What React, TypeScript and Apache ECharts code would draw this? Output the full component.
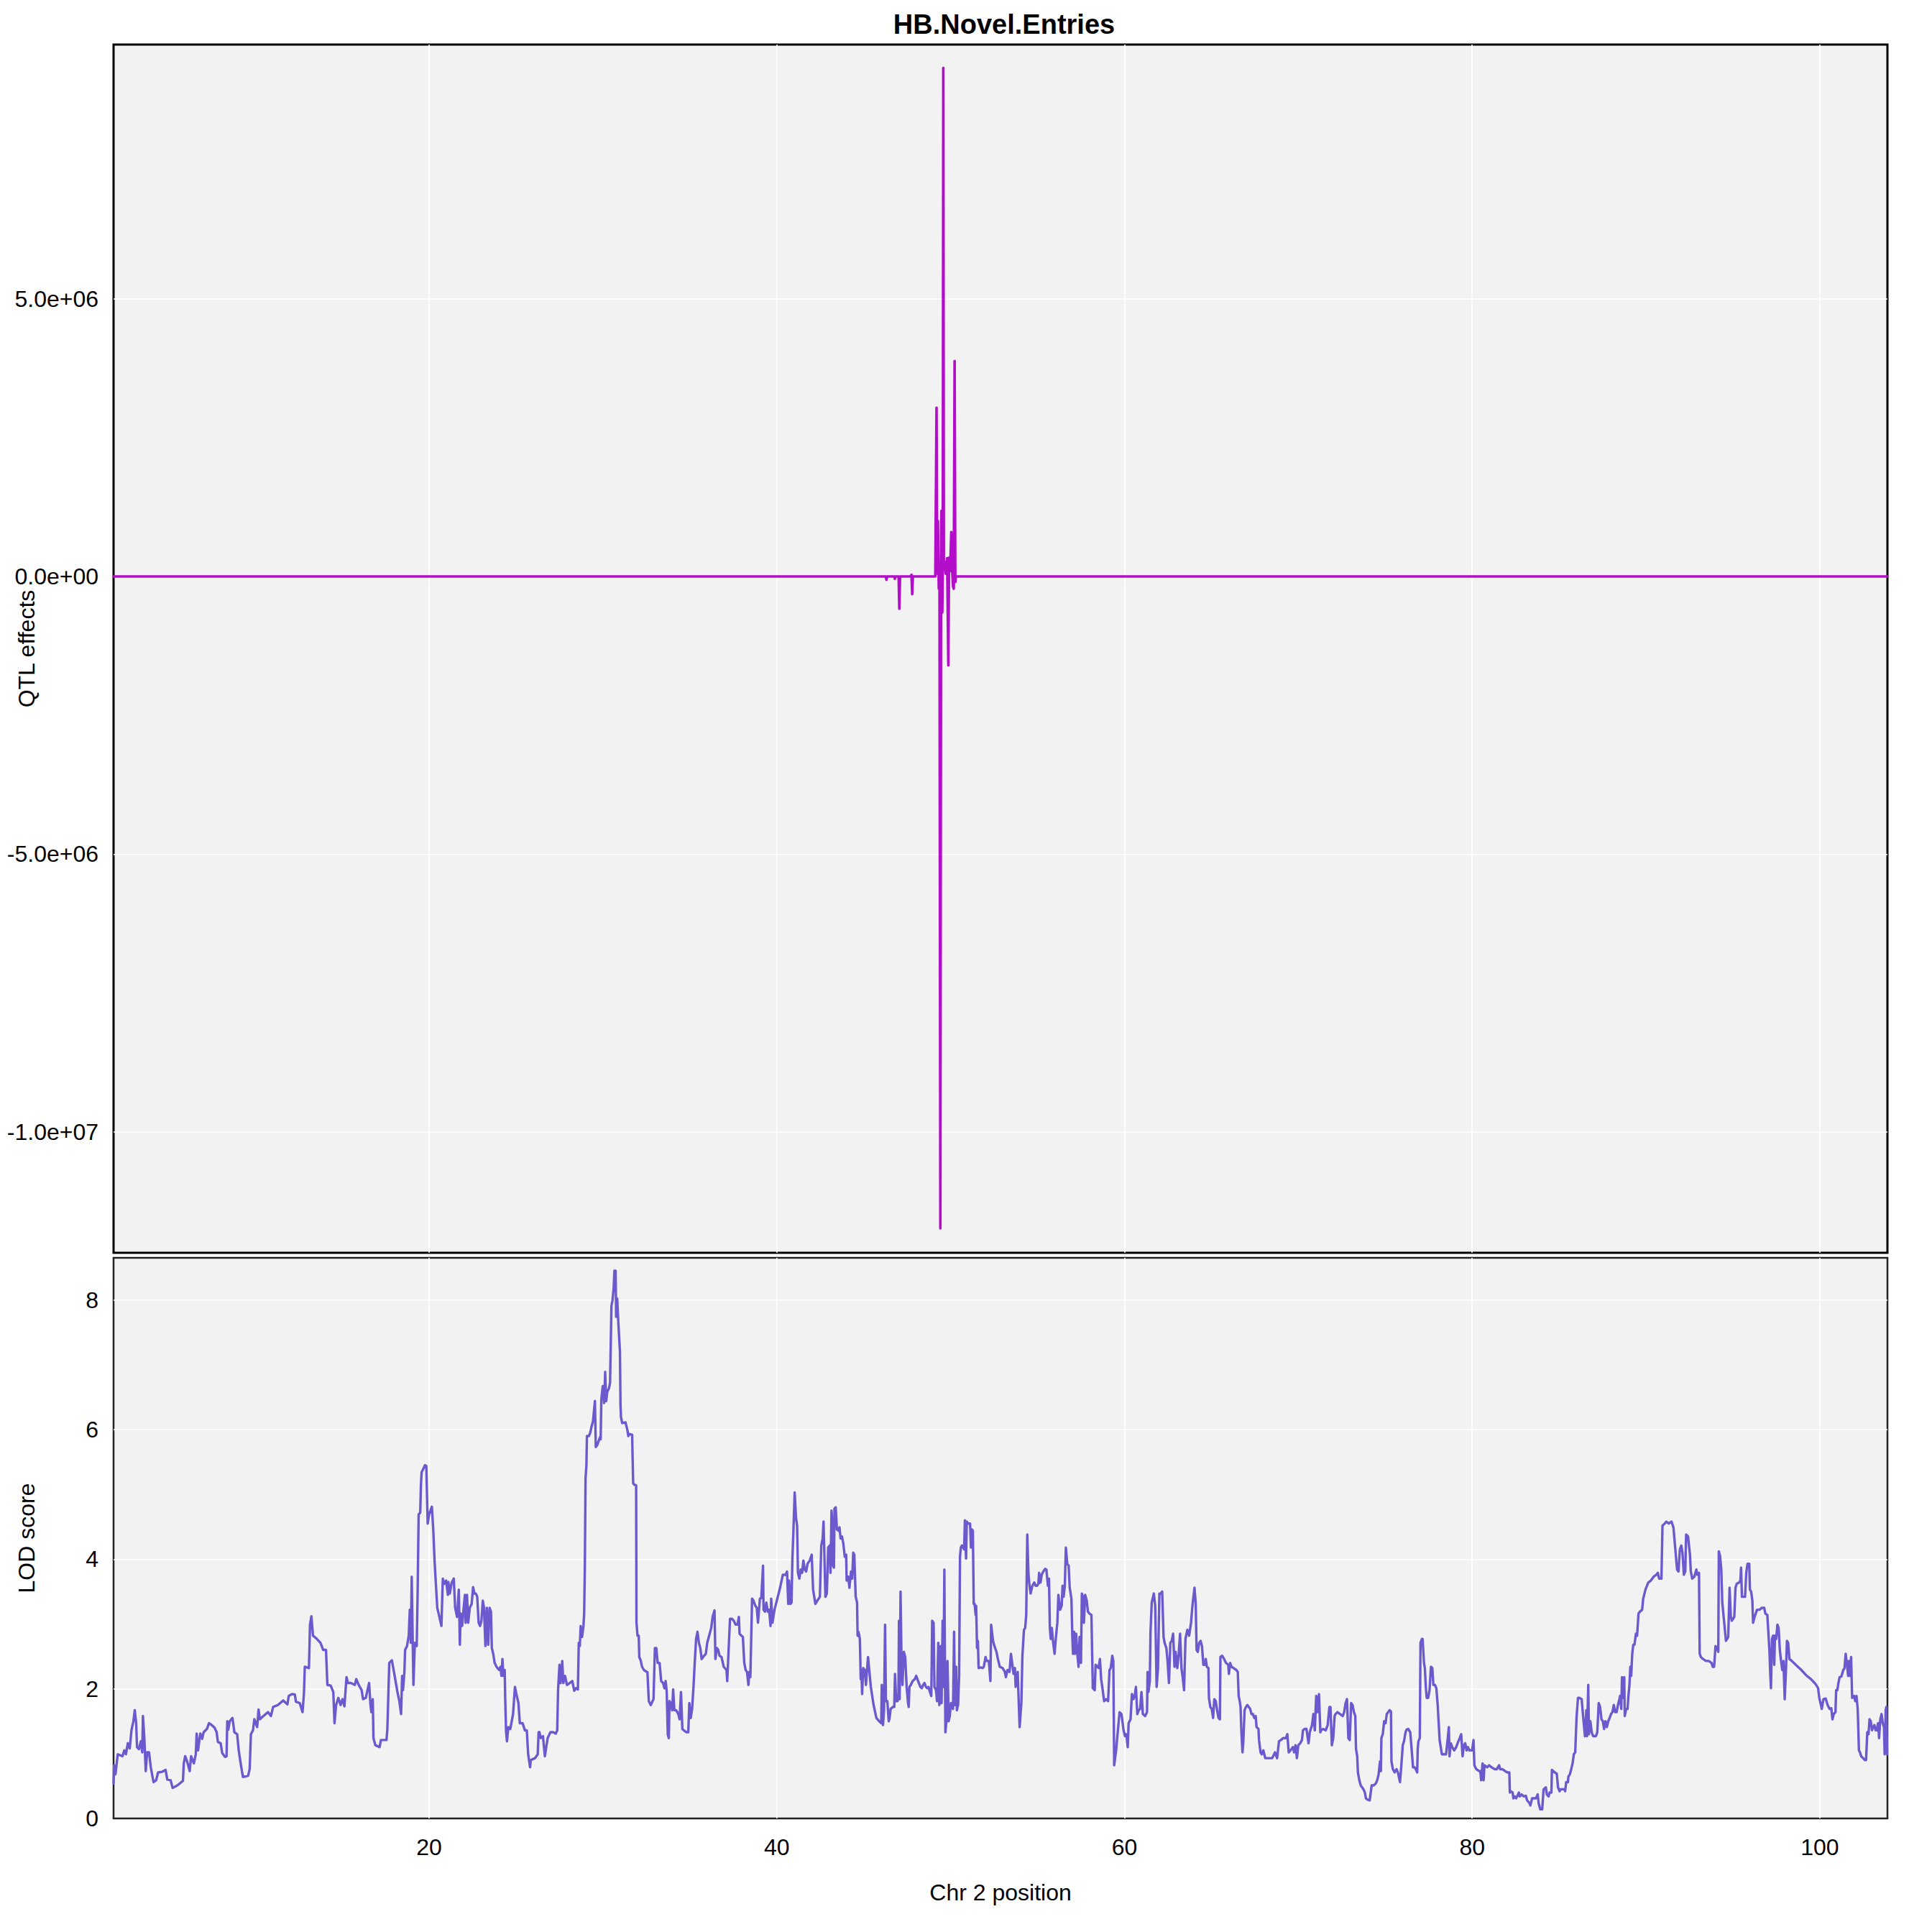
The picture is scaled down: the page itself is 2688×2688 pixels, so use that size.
import React, { useEffect, useRef } from "react";
import * as echarts from "echarts";

const chartTitle = "HB.Novel.Entries";
const xAxisTitle = "Chr 2 position";
const qtlAxisTitle = "QTL effects";
const lodAxisTitle = "LOD score";

const posTickValues = [20, 40, 60, 80, 100];
const posTickLabels = ["20", "40", "60", "80", "100"];
const qtlTickValues = [-1e7, -5e6, 0, 5e6];
const qtlTickLabels = ["-1.0e+07", "-5.0e+06", "0.0e+00", "5.0e+06"];
const lodTickValues = [0, 2, 4, 6, 8];
const lodTickLabels = ["0", "2", "4", "6", "8"];

// QTL effects (top panel): [position, effect]
const effectPoints = [
  [1.85, 0], [46.27, 0], [46.31, -60000], [46.35, 0], [46.75, 0], [46.79, -40000], [46.83, 0],
  [47.01, 0], [47.05, -580000], [47.09, 0], [47.71, 0], [47.75, 30000], [47.79, -320000], [47.83, 0],
  [49.12, 0], [49.19, 3040000], [49.23, 50000], [49.27, 1000000], [49.32, -220000], [49.36, 100000],
  [49.41, -11740000], [49.45, 200000], [49.47, 1180000], [49.52, -650000], [49.55, 100000],
  [49.58, 9160000], [49.61, 150000], [49.65, 270000], [49.72, 50000], [49.8, 330000],
  [49.87, -1600000], [49.91, 340000], [49.97, 100000], [50.04, 800000], [50.09, 100000],
  [50.14, -180000], [50.18, -220000], [50.23, 3880000], [50.27, -100000], [50.31, 0], [103.89, 0],
];

// LOD scores (bottom panel): [position, LOD]
const lodSegment1 = [
  [1.85,0.54],[1.88,0.82],[1.96,0.68],[2.09,0.99],[2.36,0.96],[2.47,1.05],[2.56,0.99],[2.67,1.16],[2.78,1.08],[2.88,1.36],[2.99,1.50],[3.07,1.67],[3.15,1.47],[3.20,1.10],[3.31,1.07],[3.42,1.19],[3.50,1.02],[3.54,1.58],[3.62,1.24],[3.70,0.73],[3.78,1.02],[3.89,1.02],[3.99,0.79],[4.15,0.56],[4.30,0.59],[4.41,0.71],[4.65,0.72],[4.84,0.75],[4.94,0.60],[5.13,0.59],[5.25,0.47],[5.52,0.51],[5.84,0.58],[5.89,0.85],[5.97,0.96],[6.08,0.88],[6.23,0.73],[6.31,0.96],[6.47,0.85],[6.58,0.99],[6.63,1.31],[6.71,1.05],[6.84,1.31],[6.95,1.23],[7.03,1.33],[7.22,1.38],[7.34,1.47],[7.50,1.44],[7.66,1.40],[7.78,1.33],[7.85,1.18],[8.01,1.16],[8.10,1.01],[8.26,0.95],[8.35,0.96],[8.39,1.50],[8.45,1.37],[8.53,1.50],[8.69,1.55],[8.80,1.33],[8.96,1.30],[9.05,1.05],[9.16,0.85],[9.29,0.64],[9.59,0.66],[9.68,0.76],[9.75,1.30],[9.87,1.36],[9.95,1.53],[10.11,1.41],[10.19,1.68],[10.27,1.53],[10.51,1.59],[10.74,1.64],[10.90,1.58],[11.03,1.72],[11.30,1.75],[11.61,1.82],[11.85,1.76],[11.93,1.89],[12.12,1.92],[12.28,1.91],[12.34,1.80],[12.56,1.78],[12.72,1.64],[12.80,1.92],[12.85,2.34],[13.09,2.32],[13.15,2.99],[13.23,3.12],[13.32,2.82],[13.51,2.78],[13.75,2.71],[13.91,2.60],[14.07,2.60],[14.15,2.06],[14.34,2.05],[14.49,1.95],[14.56,1.47],[14.65,1.75],[14.78,1.86],[14.91,1.75],[15.02,1.84],[15.13,1.73],[15.25,2.18],[15.33,2.09],[15.49,2.09],[15.73,2.06],[15.81,2.15],[15.97,2.05],[16.12,1.98],[16.20,1.84],[16.36,1.86],[16.44,1.96],[16.55,2.09],[16.63,1.75],[16.68,1.64],[16.76,1.84],[16.80,1.24],[16.91,1.13],[17.15,1.10],[17.23,1.21],[17.55,1.21],[17.60,1.38],[17.71,2.40],[17.86,2.44],[18.02,2.20],[18.18,1.95],[18.29,1.81],[18.39,1.61],[18.45,2.20],[18.50,1.98],[18.58,2.26],[18.62,2.60],[18.73,2.66],[18.83,2.82],[18.89,3.22],[18.95,2.71],[19.00,3.73],[19.05,2.88],[19.10,2.06],[19.18,2.71],[19.29,2.66],[19.34,3.47],[19.40,4.69],[19.49,4.72],[19.53,5.14],[19.57,5.34],[19.68,5.40],[19.76,5.45],[19.84,5.44],[19.92,4.55],[20.00,4.69],[20.16,4.81],[20.24,4.46],[20.32,3.95],[20.47,3.25],[20.55,3.16],[20.71,2.97],[20.79,3.70],[20.87,3.62],[20.98,3.67],[21.08,3.45],[21.11,3.65],[21.19,3.47],[21.30,3.64],[21.42,3.70],[21.50,3.25],[21.61,3.11],[21.71,3.53],[21.77,2.68],[21.82,3.16],[21.90,2.97],[21.98,3.22],[22.06,3.45],[22.10,3.02],[22.18,3.45],[22.25,3.02],[22.34,3.25],[22.45,3.31],[22.53,3.57],[22.61,3.47],[22.69,3.47],[22.77,3.42],[22.85,3.02],[22.93,2.97],[23.01,3.05],[23.09,3.36],[23.16,3.25],[23.24,2.66],[23.32,3.25],[23.40,2.68],[23.48,3.25],[23.56,3.19],[23.61,2.63],[23.69,2.54],[23.77,2.40],[23.88,2.34],[24.03,2.29],[24.11,2.34],[24.16,2.20],[24.22,2.46],[24.27,2.20],[24.35,2.29],[24.38,1.84],[24.43,1.33],[24.48,1.19],[24.56,1.41],[24.67,1.38],[24.83,1.61],[24.94,2.03],[25.02,1.92],[25.14,1.78],[25.22,1.47],[25.38,1.47],[25.51,1.36],[25.62,1.36],[25.70,0.99],[25.81,0.79],[25.85,0.90],[26.09,0.93],[26.25,0.99],[26.30,1.33],
];
const lodSegment2 = [
  [26.35,1.33],[26.42,1.24],[26.55,1.27],[26.66,0.96],[26.74,1.10],[26.82,1.24],[26.98,1.33],[27.14,1.33],[27.29,1.31],[27.37,1.36],[27.42,1.98],[27.50,2.37],[27.56,2.09],[27.66,2.43],[27.72,2.09],[27.82,2.20],[27.93,2.06],[28.09,2.09],[28.24,2.12],[28.35,1.97],[28.45,2.01],[28.56,1.99],[28.61,2.71],[28.67,2.66],[28.72,2.97],[28.80,2.80],[28.88,2.97],[28.92,3.16],[28.96,3.87],[29.00,5.25],[29.05,5.45],[29.08,5.90],[29.19,5.90],[29.27,5.95],[29.35,6.05],[29.43,6.13],[29.54,6.44],[29.59,5.73],[29.67,5.76],[29.75,5.82],[29.83,5.88],[29.87,5.85],[29.91,6.47],[29.99,6.67],[30.07,6.41],[30.13,6.89],[30.19,6.44],[30.25,6.58],[30.35,6.64],[30.41,6.72],[30.49,7.91],[30.55,7.99],[30.62,8.19],[30.66,8.45],[30.73,8.45],[30.76,7.74],[30.82,8.02],[30.89,7.63],[30.98,7.20],[31.01,6.38],[31.04,6.19],[31.11,6.10],[31.30,6.11],[31.41,5.99],[31.46,5.90],[31.52,5.93],[31.68,5.92],[31.74,5.17],[31.80,5.15],[31.91,5.14],[31.93,3.02],[31.99,2.82],[32.06,2.82],[32.09,2.49],[32.17,2.44],[32.25,2.34],[32.36,2.29],[32.52,2.26],[32.56,2.26],[32.64,1.81],[32.75,1.75],[32.91,1.84],[32.99,2.63],[33.07,2.63],[33.15,2.40],[33.26,2.40],[33.35,2.12],[33.46,2.09],[33.54,2.01],[33.61,2.12],[33.67,1.95],[33.73,1.30],[33.79,1.24],[33.83,1.81],[33.89,1.78],[33.98,1.67],[34.04,1.99],[34.11,1.67],[34.21,1.67],[34.34,1.61],[34.41,1.53],[34.49,1.95],[34.57,1.38],[34.65,1.36],[34.81,1.33],[34.91,1.33],[34.97,1.78],[35.05,1.55],[35.13,1.69],[35.21,2.03],[35.28,2.40],[35.36,2.77],[35.44,2.88],[35.52,2.71],[35.60,2.63],[35.68,2.46],[35.76,2.49],[35.92,2.54],[36.00,2.71],[36.11,2.82],[36.23,2.94],[36.31,3.11],[36.42,3.21],[36.47,2.46],[36.55,2.63],[36.63,2.60],[36.71,2.51],[36.82,2.49],[36.95,2.34],[37.11,2.29],[37.15,2.12],[37.22,2.54],[37.31,3.08],[37.42,3.08],[37.53,3.05],[37.63,2.99],[37.74,2.99],[37.82,3.11],[37.86,2.85],[37.97,2.82],[38.05,2.80],[38.13,2.40],[38.21,2.29],[38.29,2.26],[38.37,2.06],[38.42,2.26],[38.48,2.18],[38.53,2.77],[38.58,3.39],[38.66,3.36],[38.77,3.28],[38.85,3.25],[38.92,3.02],[39.03,3.39],[39.11,3.40],[39.21,3.90],[39.24,3.22],[39.32,3.19],[39.40,3.33],[39.48,3.19],[39.56,3.22],[39.64,2.97],[39.68,3.39],[39.75,3.02],[39.87,3.22],[40.03,3.39],[40.19,3.56],[40.35,3.76],[40.51,3.76],[40.59,3.81],[40.66,3.31],[40.71,3.67],[40.79,3.31],[40.85,3.33],[40.90,4.01],[40.95,4.38],[41.03,5.03],[41.11,4.63],[41.17,4.52],[41.22,3.79],[41.30,3.70],[41.38,3.84],[41.46,3.79],[41.53,3.98],[41.61,3.84],[41.69,3.81],[41.77,3.93],[41.90,3.98],[42.01,4.07],[42.09,3.53],[42.22,3.31],[42.33,3.36],[42.48,3.42],[42.56,4.21],[42.64,4.32],[42.69,4.58],[42.75,3.95],[42.80,3.42],[42.88,3.47],[42.96,4.18],[43.04,4.21],[43.09,3.79],[43.15,4.75],[43.20,4.52],[43.24,3.90],[43.29,3.87],[43.32,4.78],[43.39,4.80],[43.46,4.46],[43.54,4.44],[43.61,4.49],[43.67,4.32],[43.75,4.35],[43.83,4.24],[43.91,4.04],[43.99,4.07],[44.02,3.67],[44.11,3.73],[44.18,3.56],[44.27,3.81],[44.34,3.70],[44.40,4.10],[44.46,4.07],[44.54,3.42],[44.62,3.33],[44.65,2.82],[44.70,2.88],[44.78,2.77],[44.83,2.15],[44.87,2.29],[44.91,1.92],[44.97,2.32],[45.06,2.29],[45.13,2.06],[45.19,2.29],[45.25,2.49],[45.33,2.26],[45.41,2.03],[45.57,1.75],[45.73,1.55],[45.89,1.50],[46.01,1.47],[46.04,2.06],[46.11,1.44],[46.17,1.67],[46.23,2.99],[46.28,1.81],[46.36,1.81],[46.44,1.50],[46.49,1.55],[46.55,1.69],[46.68,1.72],[46.76,1.72],[46.80,2.23],[46.87,1.81],[46.95,1.81],[47.00,1.92],[47.03,3.05],[47.07,1.84],[47.12,3.50],[47.18,2.37],[47.23,2.06],[47.31,2.57],[47.39,2.49],[47.47,2.03],[47.55,1.78],[47.59,1.72],[47.63,2.03],[47.71,2.06],[47.82,2.12],[47.94,2.15],[48.02,2.20],[48.13,2.12],[48.26,2.03],[48.34,2.01],[48.42,2.06],[48.50,2.09],[48.58,2.03],[48.66,2.01],[48.73,2.03],[48.81,1.95],[48.89,1.89],[48.94,3.05],[49.02,3.02],
];
const lodSegment3 = [
  [49.07,2.03],[49.16,1.98],[49.22,1.81],[49.29,2.71],[49.35,1.75],[49.43,2.66],[49.48,1.78],[49.54,3.05],[49.59,2.03],[49.64,3.84],[49.70,1.33],[49.76,1.50],[49.82,2.43],[49.89,1.50],[49.95,1.58],[50.02,1.78],[50.08,1.72],[50.14,1.69],[50.20,2.88],[50.25,1.75],[50.32,2.34],[50.36,1.67],[50.43,1.75],[50.49,2.20],[50.54,4.04],[50.59,4.18],[50.65,4.21],[50.71,4.19],[50.78,4.15],[50.82,4.60],[50.89,4.01],[50.93,4.58],[51.01,4.55],[51.12,4.55],[51.17,4.18],[51.22,4.46],[51.28,4.44],[51.33,3.31],[51.38,3.31],[51.44,3.14],[51.47,3.28],[51.52,2.63],[51.57,2.74],[51.61,2.32],[51.72,2.33],[51.85,2.32],[51.91,2.34],[52.01,2.49],[52.07,2.43],[52.20,2.43],[52.29,2.12],[52.33,2.99],[52.44,2.74],[52.52,2.66],[52.64,2.57],[52.72,2.46],[52.83,2.34],[52.99,2.32],[53.11,2.27],[53.18,2.18],[53.27,2.29],[53.39,2.26],[53.47,2.54],[53.54,2.40],[53.62,2.23],[53.70,2.32],[53.74,2.03],[53.86,2.26],[53.91,1.86],[53.97,1.41],[54.07,1.78],[54.13,2.51],[54.22,2.91],[54.29,2.94],[54.35,3.14],[54.41,4.38],[54.48,3.76],[54.54,3.59],[54.60,3.47],[54.70,3.59],[54.81,3.64],[54.89,3.59],[54.97,3.59],[55.05,3.62],[55.09,3.79],[55.17,3.64],[55.24,3.76],[55.33,3.81],[55.44,3.85],[55.51,3.84],[55.60,3.59],[55.66,3.70],[55.71,2.94],[55.76,2.77],[55.82,2.94],[55.90,2.71],[55.98,2.54],[56.06,2.80],[56.14,3.02],[56.20,3.45],[56.30,3.22],[56.39,3.28],[56.44,3.59],[56.50,3.42],[56.57,3.59],[56.63,4.18],[56.71,3.93],[56.79,3.90],[56.85,3.56],[56.95,3.39],[57.00,2.82],[57.04,2.54],[57.10,2.88],[57.15,2.54],[57.22,2.85],[57.29,2.54],[57.36,2.34],[57.42,2.80],[57.50,2.40],[57.55,3.47],[57.61,3.42],[57.67,3.02],[57.74,3.45],[57.83,3.36],[57.90,3.19],[57.99,3.16],[58.10,3.14],[58.18,2.01],[58.29,1.98],[58.34,2.37],[58.45,2.34],[58.51,2.32],[58.59,2.46],[58.66,2.15],[58.75,1.98],[58.83,1.81],[58.95,1.84],[59.06,1.81],[59.14,2.29],[59.21,2.32],[59.30,2.51],[59.36,2.43],[59.41,0.82],[59.52,1.05],[59.64,1.41],[59.72,1.64],[59.83,1.61],[59.95,1.36],[60.03,1.27],[60.11,1.30],[60.19,1.10],[60.24,1.47],[60.35,1.53],[60.43,1.92],[60.51,1.84],[60.59,1.89],[60.66,2.03],[60.74,1.61],[60.82,1.67],[60.90,1.69],[60.98,1.95],[61.06,1.61],[61.19,1.58],[61.30,1.64],[61.33,2.26],[61.38,1.95],[61.46,2.12],[61.50,2.88],[61.57,3.33],[61.69,3.47],[61.77,3.28],[61.85,2.03],[61.93,2.32],[62.01,3.47],[62.09,3.47],[62.17,3.50],[62.25,2.80],[62.31,2.71],[62.41,2.63],[62.48,2.43],[62.56,2.09],[62.64,2.71],[62.72,2.74],[62.80,2.85],[62.88,2.34],[62.94,2.57],[63.04,2.32],[63.12,2.54],[63.20,2.85],[63.28,2.32],[63.35,2.18],[63.43,1.98],[63.51,2.77],[63.62,2.91],[63.72,2.82],[63.83,3.02],[63.91,3.28],[63.99,3.47],[64.03,3.56],[64.10,3.31],[64.15,2.60],[64.22,2.57],[64.30,2.71],[64.38,2.74],[64.46,2.66],[64.54,2.37],[64.62,2.37],[64.68,2.46],[64.74,2.34],[64.83,2.32],[64.86,1.86],[64.94,1.72],[65.02,1.69],[65.10,1.55],[65.17,1.84],[65.25,1.81],[65.33,1.67],[65.41,1.55],[65.49,1.53],[65.52,2.49],[65.62,2.51],[65.73,2.46],[65.84,2.40],[65.97,2.37],[66.01,2.23],[66.08,2.40],[66.16,2.34],[66.28,2.32],[66.44,2.29],[66.52,2.26],[66.57,1.89],[66.63,1.81],[66.68,1.72],[66.72,1.38],[66.79,1.02],[66.84,1.19],[66.91,1.67],[66.99,1.72],[67.07,1.75],[67.23,1.69],[67.31,1.61],[67.39,1.61],[67.47,1.55],[67.55,1.58],[67.60,1.41],[67.71,1.38],[67.74,1.21],[67.83,1.02],[67.90,0.99],[67.99,1.05],[68.10,0.93],[68.26,0.93],[68.50,0.93],[68.66,1.02],[68.78,0.93],[68.89,1.19],[69.00,1.21],[69.13,1.24],[69.29,1.24],[69.37,1.30],[69.45,1.02],[69.61,1.07],[69.69,1.10],[69.76,1.02],[69.84,1.13],[69.92,0.93],[70.00,1.13],[70.11,1.16],[70.21,1.21],[70.27,1.36],[70.36,1.38],[70.47,1.38],[70.59,1.16],[70.66,1.33],[70.79,1.44],[70.87,1.61],[70.95,1.36],[71.03,1.89],[71.11,1.64],[71.19,1.92],[71.27,1.33],[71.31,1.36],[71.42,1.38],[71.58,1.36],[71.69,1.44],[71.79,1.72],
];
const lodSegment4 = [
  [71.85,1.72],[71.93,1.13],[72.01,1.24],[72.09,1.58],[72.14,1.61],[72.25,1.64],[72.41,1.61],[72.56,1.58],[72.64,1.64],[72.72,1.78],[72.80,1.84],[72.88,1.24],[72.96,1.21],[73.04,1.78],[73.12,1.75],[73.20,1.64],[73.28,1.58],[73.32,1.07],[73.39,0.96],[73.43,0.71],[73.51,0.59],[73.59,0.51],[73.67,0.48],[73.75,0.45],[73.83,0.40],[73.89,0.31],[73.99,0.29],[74.11,0.28],[74.22,0.51],[74.34,0.51],[74.46,0.54],[74.54,0.59],[74.62,0.68],[74.70,0.88],[74.75,0.73],[74.78,1.24],[74.86,1.30],[74.94,1.50],[75.02,1.47],[75.09,1.61],[75.17,1.64],[75.25,1.67],[75.33,1.65],[75.36,0.88],[75.44,0.76],[75.54,0.71],[75.65,0.76],[75.73,0.71],[75.85,0.56],[75.92,0.79],[76.01,1.13],[76.08,1.19],[76.17,1.33],[76.23,1.37],[76.33,1.38],[76.44,1.33],[76.52,1.07],[76.60,0.79],[76.68,0.79],[76.76,0.76],[76.84,0.71],[76.87,1.07],[76.91,1.19],[76.99,1.24],[77.03,2.71],[77.11,2.77],[77.15,2.77],[77.23,2.40],[77.28,2.32],[77.34,2.01],[77.39,1.86],[77.47,1.86],[77.55,1.98],[77.63,2.34],[77.71,2.32],[77.77,2.06],[77.86,2.06],[77.94,2.01],[78.02,1.75],[78.07,1.50],[78.13,1.21],[78.26,0.99],[78.39,0.99],[78.50,0.99],[78.58,1.19],[78.66,1.41],[78.70,0.96],[78.77,1.16],[78.86,1.10],[78.97,1.05],[79.08,1.10],[79.21,1.19],[79.29,1.24],[79.37,1.30],[79.45,0.96],[79.53,1.13],[79.60,1.16],[79.68,1.05],[79.76,1.10],[79.84,1.05],[79.92,1.05],[80.00,1.05],[80.08,1.21],[80.13,0.82],[80.24,0.76],[80.40,0.73],[80.47,0.73],[80.52,0.59],[80.60,0.85],[80.66,0.59],[80.71,0.82],[80.87,0.79],[80.98,0.82],[81.11,0.79],[81.30,0.76],[81.42,0.76],[81.55,0.82],[81.61,0.76],[81.74,0.76],[81.90,0.73],[82.03,0.71],[82.14,0.71],[82.17,0.40],[82.22,0.42],[82.33,0.40],[82.37,0.31],[82.45,0.34],[82.53,0.31],[82.59,0.34],[82.69,0.40],[82.74,0.34],[82.85,0.37],[82.97,0.34],[83.09,0.35],[83.16,0.28],[83.29,0.24],[83.35,0.20],[83.45,0.31],[83.56,0.31],[83.67,0.31],[83.77,0.37],[83.83,0.23],[83.92,0.14],[84.03,0.14],[84.11,0.45],[84.24,0.48],[84.30,0.37],[84.40,0.34],[84.46,0.40],[84.56,0.40],[84.59,0.75],[84.67,0.73],[84.75,0.71],[84.87,0.69],[84.94,0.48],[85.03,0.42],[85.09,0.45],[85.19,0.45],[85.30,0.45],[85.35,0.42],[85.41,0.56],[85.51,0.56],[85.54,0.65],[85.62,0.68],[85.70,0.76],[85.78,0.85],[85.85,0.99],[85.93,1.02],[86.01,1.58],[86.09,1.86],[86.17,1.86],[86.30,1.84],[86.41,1.50],[86.49,1.27],[86.57,1.67],[86.61,1.27],[86.68,2.06],[86.72,1.30],[86.80,1.50],[86.88,1.33],[86.96,1.27],[87.12,1.27],[87.20,1.33],[87.28,1.78],[87.36,1.72],[87.44,1.53],[87.52,1.50],[87.59,1.38],[87.67,1.50],[87.75,1.41],[87.83,1.50],[87.91,1.55],[87.99,1.61],[88.07,1.64],[88.15,1.75],[88.23,1.64],[88.31,1.64],[88.39,1.75],[88.47,1.84],[88.51,1.89],[88.58,1.69],[88.62,2.18],[88.70,1.86],[88.75,2.18],[88.78,1.58],[88.86,1.69],[88.94,1.69],[88.99,1.89],[89.05,2.06],[89.10,2.34],[89.15,2.20],[89.21,2.54],[89.27,2.68],[89.34,2.68],[89.42,2.85],[89.49,2.82],[89.57,3.16],[89.65,3.19],[89.78,3.22],[89.84,3.39],[89.97,3.53],[90.13,3.64],[90.28,3.67],[90.44,3.73],[90.60,3.76],[90.68,3.79],[90.76,3.70],[90.89,3.70],[90.95,4.52],[91.08,4.55],[91.17,4.58],[91.31,4.55],[91.47,4.58],[91.58,4.49],[91.68,4.18],[91.79,3.84],[91.87,3.81],[91.95,4.15],[92.03,4.21],[92.10,4.10],[92.18,3.76],[92.26,3.81],[92.31,4.38],[92.42,4.35],[92.53,4.07],[92.58,3.81],[92.66,3.70],[92.78,3.73],[92.90,3.84],[92.95,3.76],[93.05,3.79],[93.09,2.54],[93.16,2.49],[93.28,2.46],[93.45,2.43],[93.61,2.43],[93.77,2.40],[93.84,2.34],[93.92,2.34],[94.00,2.66],[94.08,2.63],[94.16,2.57],[94.19,4.12],[94.26,4.05],
];
const lodSegment5 = [
  [94.33,3.85],[94.39,3.33],[94.53,2.94],[94.60,2.74],[94.67,2.77],[94.73,2.80],[94.81,3.56],[94.88,3.11],[94.94,3.05],[95.01,3.08],[95.08,3.11],[95.15,3.56],[95.22,3.62],[95.36,3.64],[95.43,3.67],[95.47,3.87],[95.52,3.42],[95.63,3.42],[95.70,3.42],[95.77,3.79],[95.84,3.93],[95.94,3.93],[95.98,3.53],[96.05,3.50],[96.12,3.36],[96.16,3.02],[96.25,3.11],[96.39,3.22],[96.53,3.22],[96.67,3.25],[96.80,3.25],[96.87,3.16],[96.98,3.14],[97.04,2.88],[97.11,2.54],[97.15,2.23],[97.19,2.01],[97.25,2.77],[97.31,2.82],[97.38,2.37],[97.42,2.82],[97.49,2.77],[97.56,2.99],[97.63,2.94],[97.70,2.60],[97.77,2.43],[97.84,2.29],[97.91,2.43],[97.98,1.84],[98.04,2.20],[98.11,2.74],[98.18,2.71],[98.25,2.46],[98.39,2.43],[98.66,2.36],[98.94,2.29],[99.21,2.21],[99.49,2.15],[99.70,2.09],[99.79,2.06],[99.90,2.01],[99.97,1.86],[100.04,1.78],[100.11,1.69],[100.21,1.84],[100.34,1.85],[100.45,1.75],[100.56,1.69],[100.66,1.70],[100.73,1.53],[100.80,1.61],[100.90,1.64],[100.94,1.98],[101.01,1.98],[101.07,2.09],[101.14,2.18],[101.24,2.19],[101.35,2.29],[101.42,2.32],[101.49,2.54],[101.56,2.37],[101.63,2.20],[101.67,2.43],[101.72,2.20],[101.80,2.49],[101.86,1.86],[101.97,1.89],[102.04,1.81],[102.11,1.89],[102.18,1.69],[102.25,1.05],[102.31,1.02],[102.38,0.96],[102.49,0.93],[102.59,0.90],[102.66,0.90],[102.73,1.33],[102.80,1.30],[102.86,1.53],[102.93,1.50],[103.00,1.36],[103.07,1.41],[103.14,1.44],[103.21,1.36],[103.27,1.36],[103.35,1.47],[103.41,1.24],[103.48,1.53],[103.55,1.61],[103.62,1.47],[103.69,1.41],[103.73,0.99],[103.79,1.67],[103.83,1.72],[103.87,0.99],
];

const POS_MIN = 1.85;
const POS_MAX = 103.89;
const QTL_MIN = -12.18e6;
const QTL_MAX = 9.58e6;
const LOD_MIN = 0;
const LOD_MAX = 8.65;

const FONT = "'Liberation Sans', Arial, Helvetica, sans-serif";

function labelFor(values: number[], labels: string[]) {
  return (v: number) => {
    const i = values.findIndex((t) => Math.abs(t - v) <= 1e-6 * Math.max(1, Math.abs(t)));
    return i >= 0 ? labels[i] : "";
  };
}

export default function App() {
  const ref = useRef<HTMLDivElement>(null);

  useEffect(() => {
    if (!ref.current) return;
    const chart = echarts.init(ref.current, undefined, { renderer: "svg" });
    const lodPoints = [...lodSegment1, ...lodSegment2, ...lodSegment3, ...lodSegment4, ...lodSegment5];

    const splitLine = {
      show: true,
      showMinLine: false,
      showMaxLine: false,
      lineStyle: { color: "#ffffff", width: 1.6 },
    };
    const labelStyle = { color: "#000000", fontSize: 32, fontFamily: FONT };

    chart.setOption({
      animation: false,
      backgroundColor: "#ffffff",
      title: {
        text: chartTitle,
        left: 1392,
        top: 10,
        textAlign: "center",
        textStyle: { fontSize: 38, fontWeight: "bold", color: "#000000", fontFamily: FONT },
      },
      grid: [
        {
          left: 158, top: 62, width: 2468, height: 1681,
          containLabel: false, outerBoundsMode: "none",
          show: true, backgroundColor: "#f2f2f2", borderColor: "#000000", borderWidth: 3,
        },
        {
          left: 158, top: 1750, width: 2468, height: 780,
          containLabel: false, outerBoundsMode: "none",
          show: true, backgroundColor: "#f2f2f2", borderColor: "#222222", borderWidth: 2.5,
        },
      ],
      xAxis: [
        {
          type: "value", gridIndex: 0, min: POS_MIN, max: POS_MAX, splitNumber: 5,
          axisLine: { show: false }, axisTick: { show: false }, axisLabel: { show: false },
          splitLine,
        },
        {
          type: "value", gridIndex: 1, min: POS_MIN, max: POS_MAX, splitNumber: 5,
          axisLine: { show: false }, axisTick: { show: false },
          axisLabel: {
            ...labelStyle, margin: 24, showMinLabel: false, showMaxLabel: false,
            formatter: labelFor(posTickValues, posTickLabels),
          },
          splitLine,
          name: xAxisTitle, nameLocation: "middle", nameGap: 87, nameMoveOverlap: false,
          nameTextStyle: { ...labelStyle },
        },
      ],
      yAxis: [
        {
          type: "value", gridIndex: 0, min: QTL_MIN, max: QTL_MAX, splitNumber: 5,
          axisLine: { show: false }, axisTick: { show: false },
          axisLabel: {
            ...labelStyle, margin: 21, showMinLabel: false, showMaxLabel: false,
            formatter: labelFor(qtlTickValues, qtlTickLabels),
          },
          splitLine,
          name: qtlAxisTitle, nameLocation: "middle", nameGap: 105, nameMoveOverlap: false,
          nameTextStyle: { ...labelStyle },
        },
        {
          type: "value", gridIndex: 1, min: LOD_MIN, max: LOD_MAX, interval: 2,
          axisLine: { show: false }, axisTick: { show: false },
          axisLabel: {
            ...labelStyle, margin: 21, showMinLabel: true, showMaxLabel: false,
            formatter: labelFor(lodTickValues, lodTickLabels),
          },
          splitLine,
          name: lodAxisTitle, nameLocation: "middle", nameGap: 105, nameMoveOverlap: false,
          nameTextStyle: { ...labelStyle },
        },
      ],
      series: [
        {
          type: "line", xAxisIndex: 0, yAxisIndex: 0, data: effectPoints,
          showSymbol: false, symbol: "none", silent: true, clip: true,
          lineStyle: { color: "#b20dc9", width: 3.6, join: "round", cap: "round" },
          z: 3,
        },
        {
          type: "line", xAxisIndex: 1, yAxisIndex: 1, data: lodPoints,
          showSymbol: false, symbol: "none", silent: true, clip: true,
          lineStyle: { color: "#6a5acd", width: 3.4, join: "round", cap: "round" },
          z: 3,
        },
      ],
    });
    return () => chart.dispose();
  }, []);

  return (
    <div
      ref={ref}
      style={{ position: "absolute", left: 0, top: 0, width: 2688, height: 2688, background: "#ffffff" }}
    />
  );
}
